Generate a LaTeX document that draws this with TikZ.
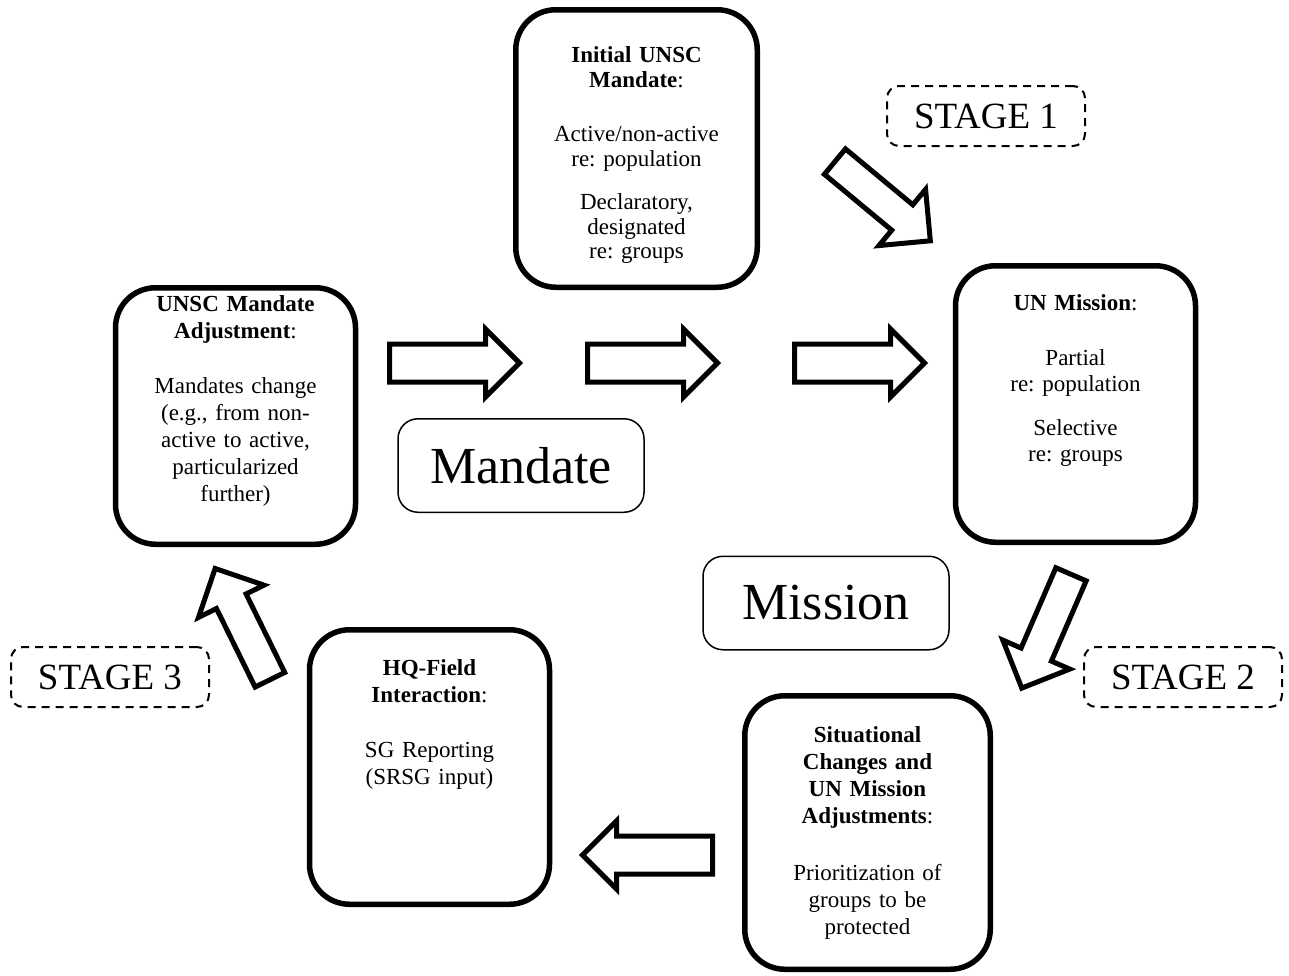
\documentclass[tikz,border=0pt]{standalone}
\usepackage{fontspec}
\setmainfont{Liberation Serif}
\usepackage{tikz}
\usetikzlibrary{shapes.arrows}

\newcommand{\boxfont}{\fontsize{11.5}{13.5}\selectfont\frenchspacing}

\begin{document}
\begin{tikzpicture}[x=0.5pt,y=-0.5pt,
    box/.style={draw,line width=2.75pt,rounded corners=20pt,align=center,
        text width=112pt,inner xsep=4pt,inner ysep=0pt,font=\boxfont},
    tagbox/.style={draw,line width=0.75pt,rounded corners=10pt,
        minimum width=123pt,minimum height=46.75pt,font=\fontsize{26}{28}\selectfont},
    stagebox/.style={draw,line width=1pt,dash pattern=on 4pt off 3pt,rounded corners=6pt,
        minimum width=99pt,minimum height=30pt,font=\fontsize{18.5}{20}\selectfont},
    blockarrow/.style={single arrow,draw,line width=2.5pt,inner xsep=0pt,inner ysep=8.25pt,
        single arrow head extend=7.5pt,minimum height=65pt,anchor=tail},
    diagarrow/.style={blockarrow,inner ysep=7pt,single arrow head extend=10pt,minimum height=62pt}]
\useasboundingbox (0,0) rectangle (1289,975);

% stage boxes
\node[box,font=\fontsize{11.5}{12.25}\selectfont\frenchspacing,minimum width=120.75pt,
    text height=26.5pt,text depth=112.25pt] (init) at (636.5,148.5)
    {\textbf{Initial UNSC}\\\textbf{Mandate}:\\[15pt]Active/non-active\\re: population\\[9.5pt]Declaratory,\\designated\\re: groups};
\node[box,font=\fontsize{11.5}{13}\selectfont\frenchspacing,minimum width=119.75pt,
    text height=22.5pt,text depth=115.75pt] (mission) at (1075.5,404)
    {\textbf{UN Mission}:\\[14.5pt]Partial\\re: population\\[9pt]Selective\\re: groups};
\node[box,minimum width=122.75pt,text height=23.5pt,text depth=113.25pt] (change) at (867.5,832.5)
    {\textbf{Situational}\\\textbf{Changes and}\\\textbf{UN Mission}\\\textbf{Adjustments}:\\[15pt]Prioritization of\\groups to be\\protected};
\node[box,minimum width=119.75pt,text height=23pt,text depth=114.25pt] (hq) at (429.5,767)
    {\textbf{HQ-Field}\\\textbf{Interaction}:\\[14pt]SG Reporting\\(SRSG input)};
\node[box,minimum width=119.75pt,text height=12pt,text depth=116.25pt] (adjust) at (235.5,416)
    {\textbf{UNSC Mandate}\\\textbf{Adjustment}:\\[14pt]Mandates change\\(e.g., from non-\\active to active,\\particularized\\further)};

% mandate / mission tags
\node[tagbox] (mandatetag) at (521,465.5) {Mandate};
\node[tagbox] (missiontag) at (826,603) {Mission};

\node[stagebox] (stage1) at (986,116) {STAGE 1};
\node[stagebox] (stage2) at (1183,677) {STAGE 2};
\node[stagebox] (stage3) at (110,677) {STAGE 3};

% block arrows
\node[blockarrow] (ar1) at (387,363) {};
\node[blockarrow] (ar2) at (585,363) {};
\node[blockarrow] (ar3) at (792,363) {};
\node[blockarrow,rotate=180] (ar4) at (715,855) {};
\node[diagarrow,rotate=-39.7] (ar5) at (833,160) {};
\node[diagarrow,rotate=-113.4] (ar6) at (1072,572) {};
\node[diagarrow,rotate=116.2] (ar7) at (271,682) {};
\end{tikzpicture}
\end{document}
